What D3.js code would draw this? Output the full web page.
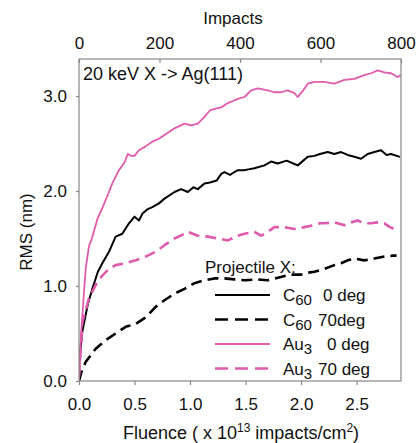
<!DOCTYPE html>
<html>
<head>
<meta charset="utf-8">
<script src="https://cdnjs.cloudflare.com/ajax/libs/d3/7.8.5/d3.min.js"></script>
<style>
  body { margin: 0; background: #fff; }
  text { font-family: "Liberation Sans", Arial, sans-serif; fill: #111; }
</style>
</head>
<body>
<div id="chart"></div>
<script>
// fluence (x 10^13 impacts/cm2) and RMS (nm)
var c60_0_x = [0, 0.01, 0.03, 0.08, 0.12, 0.17, 0.21, 0.27, 0.33, 0.39, 0.45, 0.50, 0.54, 0.57, 0.62, 0.66, 0.72, 0.77, 0.86, 0.92, 0.98, 1.03, 1.07, 1.13, 1.18, 1.24, 1.28, 1.31, 1.36, 1.40, 1.43, 1.49, 1.58, 1.67, 1.73, 1.79, 1.87, 1.93, 1.97, 2.02, 2.06, 2.12, 2.17, 2.24, 2.30, 2.36, 2.42, 2.48, 2.54, 2.60, 2.66, 2.72, 2.77, 2.81, 2.89];
var c60_0_y = [0.15, 0.30, 0.52, 0.81, 0.97, 1.15, 1.24, 1.36, 1.52, 1.55, 1.66, 1.73, 1.69, 1.76, 1.81, 1.83, 1.87, 1.92, 1.99, 2.02, 1.99, 2.04, 2.02, 2.08, 2.09, 2.11, 2.18, 2.20, 2.17, 2.20, 2.22, 2.22, 2.24, 2.27, 2.31, 2.29, 2.32, 2.29, 2.27, 2.32, 2.36, 2.37, 2.39, 2.41, 2.39, 2.41, 2.38, 2.36, 2.34, 2.39, 2.41, 2.43, 2.38, 2.39, 2.36];

var c60_70_x = [0, 0.02, 0.06, 0.15, 0.24, 0.33, 0.42, 0.51, 0.60, 0.69, 0.77, 0.86, 0.95, 1.04, 1.13, 1.22, 1.31, 1.40, 1.50, 1.60, 1.70, 1.80, 1.90, 2.00, 2.06, 2.12, 2.21, 2.30, 2.36, 2.42, 2.48, 2.57, 2.66, 2.75, 2.83, 2.86];
var c60_70_y = [0, 0.09, 0.20, 0.34, 0.43, 0.50, 0.57, 0.60, 0.67, 0.78, 0.85, 0.92, 0.97, 1.03, 1.06, 1.08, 1.08, 1.07, 1.06, 1.07, 1.06, 1.09, 1.12, 1.12, 1.14, 1.15, 1.18, 1.22, 1.24, 1.27, 1.29, 1.27, 1.29, 1.31, 1.32, 1.32];

var au3_0_x = [0, 0.01, 0.02, 0.04, 0.06, 0.09, 0.11, 0.17, 0.21, 0.27, 0.30, 0.36, 0.41, 0.44, 0.47, 0.50, 0.54, 0.60, 0.66, 0.72, 0.77, 0.86, 0.95, 1.01, 1.07, 1.13, 1.18, 1.24, 1.28, 1.33, 1.39, 1.43, 1.49, 1.55, 1.61, 1.70, 1.76, 1.82, 1.88, 1.94, 1.97, 2.02, 2.06, 2.12, 2.17, 2.21, 2.30, 2.39, 2.48, 2.57, 2.63, 2.69, 2.75, 2.81, 2.87, 2.90];
var au3_0_y = [0, 0.30, 0.52, 0.85, 1.18, 1.42, 1.48, 1.72, 1.82, 1.99, 2.08, 2.22, 2.30, 2.39, 2.37, 2.37, 2.43, 2.47, 2.52, 2.55, 2.59, 2.66, 2.71, 2.69, 2.71, 2.78, 2.85, 2.87, 2.88, 2.92, 2.95, 2.97, 2.99, 3.06, 3.08, 3.06, 3.04, 3.04, 3.06, 3.03, 2.99, 3.06, 3.13, 3.15, 3.15, 3.15, 3.13, 3.17, 3.18, 3.22, 3.24, 3.27, 3.25, 3.24, 3.20, 3.22];

var au3_70_x = [0, 0.02, 0.03, 0.09, 0.15, 0.21, 0.27, 0.33, 0.42, 0.51, 0.60, 0.69, 0.77, 0.86, 0.95, 0.98, 1.07, 1.16, 1.25, 1.34, 1.43, 1.49, 1.58, 1.64, 1.70, 1.76, 1.85, 1.94, 2.03, 2.11, 2.17, 2.21, 2.30, 2.39, 2.45, 2.51, 2.57, 2.63, 2.69, 2.75, 2.80, 2.84];
var au3_70_y = [0.05, 0.40, 0.62, 0.87, 1.01, 1.11, 1.18, 1.22, 1.24, 1.27, 1.31, 1.36, 1.43, 1.50, 1.55, 1.57, 1.53, 1.52, 1.50, 1.48, 1.53, 1.55, 1.57, 1.53, 1.57, 1.62, 1.62, 1.60, 1.62, 1.64, 1.66, 1.66, 1.67, 1.64, 1.67, 1.69, 1.66, 1.66, 1.67, 1.66, 1.62, 1.60];

var yTicks = [0, 1, 2, 3];
var xTicks = [0, 0.5, 1, 1.5, 2, 2.5];
var topTicks = [0, 200, 400, 600, 800];

var pink = "#e05aad";

var series = [
  {xs: c60_0_x, ys: c60_0_y, color: "#000", dash: null, w: 2},
  {xs: c60_70_x, ys: c60_70_y, color: "#000", dash: "11,6", w: 2.6},
  {xs: au3_0_x, ys: au3_0_y, color: pink, dash: null, w: 1.8},
  {xs: au3_70_x, ys: au3_70_y, color: pink, dash: "11,6", w: 2.6}
];

// legend: main part, subscript, suffix
var legendRows = [
  {main: "C", sub: "60", rest: "0 deg", restX: 323},
  {main: "C", sub: "60", rest: "70deg", restX: 318},
  {main: "Au", sub: "3", rest: "0 deg", restX: 327},
  {main: "Au", sub: "3", rest: "70 deg", restX: 318}
];

var W = 416, H = 443;
var pl = 79, pr = 401, pt = 59, pb = 381;

var svg = d3.select("#chart").append("svg")
  .attr("width", W)
  .attr("height", H);

var x = d3.scaleLinear().domain([0, 2.9]).range([pl, pr]);
var xTop = d3.scaleLinear().domain([0, 800]).range([pl, pr]);
var y = d3.scaleLinear().domain([0, 3.39]).range([pb, pt]);

svg.append("clipPath").attr("id", "clip")
  .append("rect")
  .attr("x", pl).attr("y", pt)
  .attr("width", pr - pl).attr("height", pb - pt);

var line = d3.line()
  .x(function(d) { return x(d[0]); })
  .y(function(d) { return y(d[1]); });

svg.append("g").attr("clip-path", "url(#clip)")
  .selectAll("path")
  .data(series)
  .enter()
  .append("path")
  .attr("d", function(s) { return line(s.xs.map(function(v, i) { return [v, s.ys[i]]; })); })
  .attr("fill", "none")
  .attr("stroke", function(s) { return s.color; })
  .attr("stroke-width", function(s) { return s.w; })
  .attr("stroke-dasharray", function(s) { return s.dash; })
  .attr("stroke-linejoin", "round");

// frame
svg.append("rect")
  .attr("x", pl).attr("y", pt)
  .attr("width", pr - pl).attr("height", pb - pt)
  .attr("fill", "none")
  .attr("stroke", "#888")
  .attr("stroke-width", 1.2);

// axes
var gx = svg.append("g")
  .attr("transform", "translate(0," + pb + ")")
  .call(d3.axisBottom(x).tickValues(xTicks).tickSize(4).tickPadding(13).tickFormat(d3.format(".1f")));

var gTop = svg.append("g")
  .attr("transform", "translate(0," + pt + ")")
  .call(d3.axisTop(xTop).tickValues(topTicks).tickSize(-4).tickPadding(10).tickFormat(d3.format("d")));

var gy = svg.append("g")
  .attr("transform", "translate(" + pl + ",0)")
  .call(d3.axisLeft(y).tickValues(yTicks).tickSize(3).tickPadding(9).tickFormat(d3.format(".1f")));

[gx, gTop, gy].forEach(function(g) {
  g.select(".domain").remove();
  g.selectAll(".tick line").attr("stroke", "#888").attr("stroke-width", 1.2);
  g.selectAll(".tick text").attr("font-size", "17px").attr("fill", "#111")
    .style("font-family", "'Liberation Sans', Arial, sans-serif");
});

// axis titles
svg.append("text")
  .attr("x", 233).attr("y", 24)
  .attr("text-anchor", "middle")
  .attr("font-size", "17px")
  .text("Impacts");

var xl = svg.append("text")
  .attr("x", 241).attr("y", 439)
  .attr("text-anchor", "middle")
  .attr("font-size", "18px");
xl.append("tspan").text("Fluence ( x 10");
xl.append("tspan").attr("font-size", "12px").attr("dy", -7).text("13");
xl.append("tspan").attr("dy", 7).text(" impacts/cm");
xl.append("tspan").attr("font-size", "12px").attr("dy", -7).text("2");
xl.append("tspan").attr("dy", 7).text(")");

svg.append("text")
  .attr("transform", "translate(32,232) rotate(-90)")
  .attr("text-anchor", "middle")
  .attr("font-size", "17px")
  .text("RMS (nm)");

svg.append("text")
  .attr("x", 83).attr("y", 80)
  .attr("font-size", "18px")
  .text("20 keV X -> Ag(111)");

// legend
svg.append("text")
  .attr("x", 205).attr("y", 273)
  .attr("font-size", "17px")
  .text("Projectile X:");

var leg = svg.selectAll(".leg")
  .data(series)
  .enter()
  .append("g")
  .attr("class", "leg")
  .attr("transform", function(d, i) { return "translate(0," + (295 + i * 24.5) + ")"; });

leg.append("line")
  .attr("x1", 215).attr("x2", 270)
  .attr("stroke", function(s) { return s.color; })
  .attr("stroke-width", function(s) { return s.w; })
  .attr("stroke-dasharray", function(s) { return s.dash ? "13,7" : null; });

leg.each(function(s, i) {
  var r = legendRows[i];
  var t = d3.select(this).append("text")
    .attr("x", 283).attr("y", 6)
    .attr("font-size", "17px");
  t.append("tspan").text(r.main);
  t.append("tspan").attr("font-size", "15px").attr("dy", 4).text(r.sub);
  d3.select(this).append("text")
    .attr("x", r.restX).attr("y", 6)
    .attr("font-size", "17px")
    .text(r.rest);
});
</script>
</body>
</html>
